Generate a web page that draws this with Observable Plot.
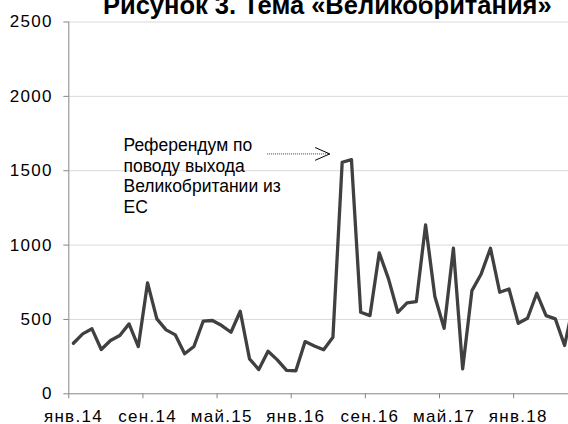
<!DOCTYPE html>
<html><head><meta charset="utf-8">
<script src="https://cdn.jsdelivr.net/npm/d3@7"></script>
<script src="https://cdn.jsdelivr.net/npm/@observablehq/plot@0.6"></script>
<style>
html,body{margin:0;padding:0;background:#fff;overflow:hidden;width:568px;height:424px}
#wrap{position:relative;width:568px;height:424px;overflow:hidden}
#title{position:absolute;left:103px;top:-7px;font:bold 25.5px "Liberation Sans",Arial,sans-serif;line-height:25px;white-space:nowrap;color:#000;z-index:2}
#chart{position:absolute;left:0;top:0;width:578px}
#chart svg{max-width:none !important;width:578px;height:424px}
g[aria-label="y-axis tick label"] text, g[aria-label="x-axis tick label"] text{letter-spacing:1.3px}
</style></head>
<body><div id="wrap"><div id="title">Рисунок 3. Тема «Великобритания»</div><div id="chart"></div></div>
<script>
// monthly values, Jan 2014 … Jul 2018
const values = [340,403,437,298,358,392,470,318,746,504,430,396,
  269,318,488,493,459,414,555,235,163,286,228,157,
  155,351,322,296,380,1557,1575,548,526,948,773,548,
  611,620,1136,654,441,979,168,694,806,979,683,705,
  474,508,676,526,504,325,620];
const tickLabels = ["янв.14","сен.14","май.15","янв.16","сен.16","май.17","янв.18"];
const tickIndex = [0,8,16,24,32,40,48];
const yTicks = [0,500,1000,1500,2000,2500];
const annotationText = "Референдум по\nповоду выхода\nВеликобритании из\nЕС";
const annotationPos = [{x:5.4, y:1730}];
const arrowShaft = [{x1:20.9, x2:27.66, y:1613}];
const arrowHead = [{x:26.12,y:1655},{x:27.66,y:1613},{x:26.12,y:1571}];

const data = values.map((v,i)=>({i, v}));
const font = '"Liberation Sans",Arial,sans-serif';

const chart = Plot.plot({
  width: 578, height: 424,
  marginLeft: 68.3, marginRight: 0, marginTop: 21.5, marginBottom: 30.7,
  style: {fontFamily: font, fontSize: "17px", color: "#000", background: "transparent"},
  x: {domain: [-0.5, 54.5]},
  y: {domain: [0, 2500]},
  marks: [
    Plot.gridY(yTicks.filter(d=>d>0), {stroke:"#d9d9d9", strokeOpacity:1, strokeWidth:1}),
    Plot.axisY(yTicks, {tickSize:5, tickPadding:11, stroke:"#868686", fontSize:17, tickFormat:d=>String(d), label:null}),
    Plot.axisX(tickIndex.map(d=>d-0.5), {tickSize:5, stroke:"#868686", tickFormat:()=>"", label:null}),
    Plot.axisX(tickIndex, {tickSize:0, tickPadding:16.5, fontSize:17, tickFormat:(d,k)=>tickLabels[k], label:null}),
    Plot.ruleX([-0.5], {stroke:"#868686"}),
    Plot.ruleY([0], {stroke:"#868686"}),
    Plot.line(data, {x:"i", y:"v", stroke:"#404040", strokeWidth:3.3}),
    Plot.text(annotationPos, {x:"x", y:"y", text:()=>annotationText, textAnchor:"start", lineAnchor:"top", lineHeight:1.18, fontSize:17.5, fill:"#000"}),
    Plot.link(arrowShaft, {x1:"x1", x2:"x2", y1:"y", y2:"y", stroke:"#404040", strokeWidth:1, strokeDasharray:"1,1"}),
    Plot.line(arrowHead, {x:"x", y:"y", stroke:"#000", strokeWidth:1})
  ]
});
document.getElementById("chart").appendChild(chart);
</script></body></html>
